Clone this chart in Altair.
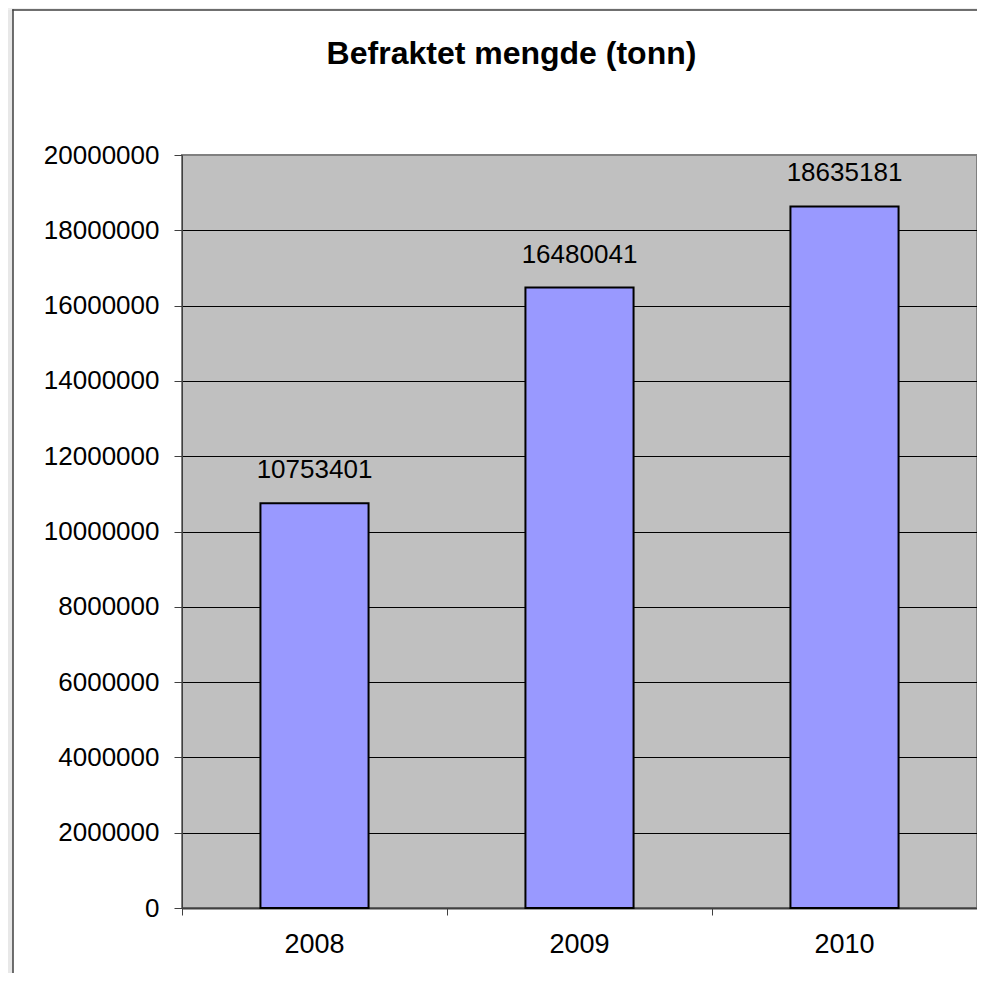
import altair as alt
import pandas as pd

years = ["2008", "2009", "2010"]
tonnes = [10753401, 16480041, 18635181]
y_ticks = [0, 2000000, 4000000, 6000000, 8000000, 10000000,
           12000000, 14000000, 16000000, 18000000, 20000000]
title_text = "Befraktet mengde (tonn)"

df = pd.DataFrame({"year": years, "value": tonnes})
FONT = "Liberation Sans, Arial"

x_enc = alt.X(
    "year:N",
    sort=years,
    scale=alt.Scale(paddingInner=0, paddingOuter=0),
    axis=alt.Axis(
        title=None, labelAngle=0, bandPosition=0,
        tickSize=7, labelPadding=16, labelBaseline="top",
        labelFont=FONT, labelFontSize=27, labelColor="black",
        domainColor="#404040", domainWidth=2, tickColor="#404040", grid=False,
        labelOverlap=False,
    ),
)
y_enc = alt.Y(
    "value:Q",
    scale=alt.Scale(domain=[0, 20000000], nice=False),
    axis=alt.Axis(
        title=None, values=y_ticks, format="d",
        tickSize=8, labelPadding=15,
        labelFont=FONT, labelFontSize=26, labelColor="black",
        domainColor="#404040", tickColor="#404040",
        grid=True, gridWidth=1,
        gridColor={"condition": {"test": "datum.value >= 20000000", "value": "#808080"},
                   "value": "black"},
        labelOverlap=False,
    ),
)

base = alt.Chart(df)
bars = base.mark_bar(
    width=alt.RelativeBandSize(0.408), fill="#9999FF", stroke="black", strokeWidth=2
).encode(x=x_enc, y=y_enc)

labels = base.mark_text(
    baseline="alphabetic", dy=-25, fontSize=26, font=FONT, color="black"
).encode(x=alt.X("year:N", sort=years), y="value:Q", text=alt.Text("value:Q", format="d"))

one = alt.Data(values=[{"k": 1}])
strip = alt.Chart(one).mark_rect(fill="#E8E8E8").encode(
    x=alt.value(-174), x2=alt.value(-169), y=alt.value(-147), y2=alt.value(830))
top_strip = alt.Chart(one).mark_rect(fill="#EFEFEF").encode(
    x=alt.value(-174), x2=alt.value(830), y=alt.value(-147), y2=alt.value(-145))
frame_left = alt.Chart(one).mark_rect(fill="#404040").encode(
    x=alt.value(-169.75), x2=alt.value(-168.25), y=alt.value(-145.75), y2=alt.value(840))
frame_top = alt.Chart(one).mark_rect(fill="#404040").encode(
    x=alt.value(-169.75), x2=alt.value(830), y=alt.value(-145.75), y2=alt.value(-144.25))

chart = alt.layer(strip, top_strip, frame_left, frame_top, bars, labels).properties(
    width=795,
    height=753,
    padding={"left": 174, "top": 147, "right": 0, "bottom": 65},
    autosize=alt.AutoSizeParams(type="none"),
    background="white",
    title=alt.TitleParams(
        title_text, font=FONT, fontSize=32, fontWeight="bold", color="black",
        anchor="middle", dx=-68, offset=-88, baseline="alphabetic",
    ),
).configure_view(fill="#C0C0C0", stroke="#808080", strokeWidth=2)

chart.save("out.html", embed_options={"renderer": "svg", "actions": False})
